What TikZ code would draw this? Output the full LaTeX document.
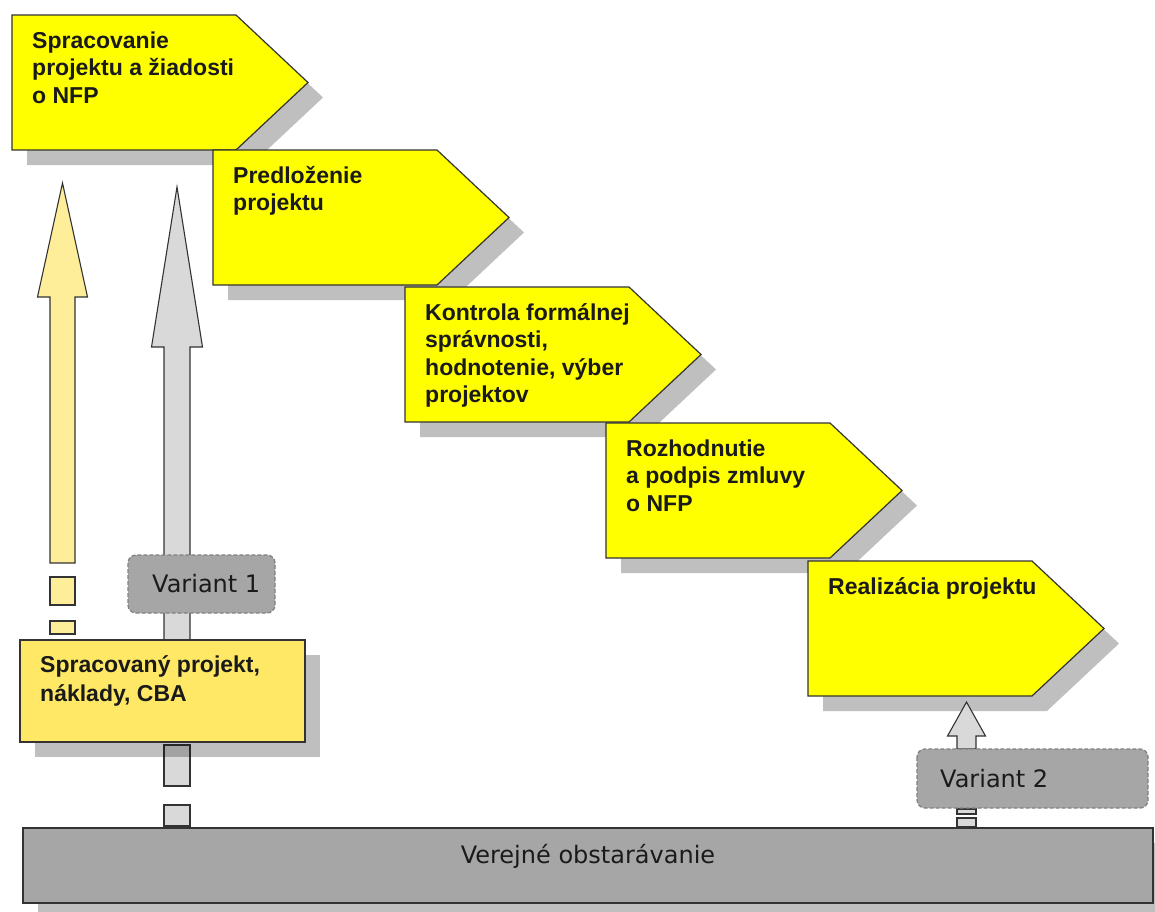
\documentclass[tikz,border=0pt]{standalone}
\usepackage{fontspec}
\setmainfont{Liberation Sans}
\newfontfamily\labelfont{DejaVu Sans}

\definecolor{phaseyellow}{HTML}{FFFF00}
\definecolor{inputyellow}{HTML}{FFE866}
\definecolor{arrowyellow}{HTML}{FFEE99}
\definecolor{arrowgray}{HTML}{D9D9D9}
\definecolor{variantgray}{HTML}{A6A6A6}
\definecolor{dashgray}{HTML}{808080}
\definecolor{barfill}{HTML}{A6A6A6}
\definecolor{inkdark}{HTML}{1A1A1A}
\definecolor{edgedark}{HTML}{333333}

\newcommand\lines[1]{\begin{tabular}[t]{@{}l@{}}#1\end{tabular}}

% pentagon-shaped process step: name, left x, top y, text
\newcommand\phasebox[4]{%
  \fill[dropshadow] ({#2+15},{#3+15}) -- ++(224,0) -- ++(72,67.5) -- ++(-72,67.5) -- ++(-224,0) -- cycle;
  \draw[phase] (#2,#3) -- ++(224,0) -- ++(72,67.5) -- ++(-72,67.5) -- ++(-224,0) -- cycle;
  \node[phasetext] (#1) at ({#2+20},{#3+33}) {\lines{#4}};
}

% upward block arrow: centre x, tip y, head base y, shaft bottom y, shaft half width, head half width, style
\newcommand\blockarrow[7]{%
  \draw[#7] ({#1-#5},#4) -- ({#1-#5},#3) -- ({#1-#6},#3) -- (#1,#2)
    -- ({#1+#6},#3) -- ({#1+#5},#3) -- ({#1+#5},#4) -- cycle;
}

\tikzset{
  x=1pt, y=-1pt,
  dropshadow/.style={fill=black, fill opacity=0.25},
  phase/.style={fill=phaseyellow, draw=edgedark, line width=1.2pt, line join=miter},
  phasetext/.style={anchor=base west, inner sep=0, text=inkdark,
    font=\fontsize{23}{27.5}\selectfont\bfseries},
  yarrow/.style={fill=arrowyellow, draw=edgedark, line width=1.1pt},
  garrow/.style={fill=arrowgray, draw=edgedark, line width=1.1pt},
  variantbox/.style={fill=variantgray, draw=dashgray, line width=1.3pt,
    dash pattern=on 4pt off 2pt, rounded corners=8pt},
  varianttext/.style={anchor=base west, inner sep=0, text=inkdark,
    font=\labelfont\fontsize{24}{28}\selectfont},
}

\begin{document}
\begin{tikzpicture}
\useasboundingbox[fill=white] (0,0) rectangle (1155,911);

% process steps, drawn top to bottom so each covers the previous shadow
\phasebox{p1}{12}{15}{Spracovanie\\projektu a žiadosti\\o NFP}
\phasebox{p2}{213}{150}{Predloženie\\projektu}
\phasebox{p3}{405}{287}{Kontrola formálnej\\správnosti,\\hodnotenie, výber\\projektov}
\phasebox{p4}{606}{423}{Rozhodnutie\\a podpis zmluvy\\o NFP}
\phasebox{p5}{808}{561}{Realizácia projektu}

% light yellow arrow with broken tail
\blockarrow{62.5}{183}{297}{563}{12.5}{25}{yarrow}
\draw[yarrow] (50,577) rectangle (75,605);
\draw[yarrow] (50,621) rectangle (75,634);

% gray arrow with broken tail
\blockarrow{177}{187}{347}{640}{13}{25.5}{garrow}
\draw[garrow] (164,745) rectangle (190,786);
\draw[garrow] (164,805) rectangle (190,826);

% variant 1 label
\draw[variantbox] (128,555) rectangle (275,613);
\node[varianttext] (v1) at (152,592) {Variant 1};

% prepared project box
\fill[dropshadow] (35,655) rectangle (320,757);
\draw[fill=inputyellow, draw=edgedark, line width=1.2pt] (20,640) rectangle (305,742);
\node[anchor=base west, inner sep=0, text=inkdark, font=\fontsize{23}{29}\selectfont\bfseries]
  (inp) at (40,672) {\lines{Spracovaný projekt,\\náklady, CBA}};

% public procurement bar
\fill[dropshadow] (38,843) rectangle (1168,918);
\draw[fill=barfill, draw=edgedark, line width=1.2pt] (23,828) rectangle (1153,903);
\node[anchor=base, inner sep=0, text=inkdark, font=\labelfont\fontsize{24}{28}\selectfont]
  (vo) at (588,863) {Verejné obstarávanie};

% variant 2 arrow and label
\blockarrow{966.5}{702}{736}{749}{9.5}{19}{garrow}
\draw[garrow] (957,809) rectangle (976,814);
\draw[garrow] (957,818) rectangle (976,827);
\draw[variantbox] (917,749) rectangle (1148,808);
\node[varianttext] (v2) at (940,787) {Variant 2};
\end{tikzpicture}
\end{document}
